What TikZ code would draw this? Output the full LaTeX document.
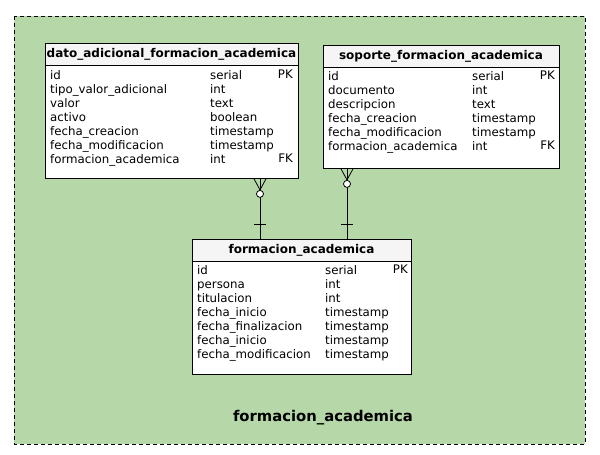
\documentclass[tikz,border=0pt]{standalone}
\usepackage{fontspec}
\setmainfont{DejaVu Sans}
\usepackage{xcolor}
\usepackage{tikz}
\usetikzlibrary{shapes,arrows,positioning}

\definecolor{modulo}{HTML}{B6D7A8}
\definecolor{cabecera}{HTML}{F5F5F5}

\tikzset{
    tabla/.style={draw, line width=0.9pt, fill=white, anchor=north west, inner sep=0pt},
    titulo/.style={font=\fontsize{12}{14}\selectfont\bfseries, inner sep=0pt},
    campos/.style={font=\fontsize{11.8}{14}\selectfont, align=left, anchor=north west, inner sep=0pt},
    claves/.style={font=\fontsize{11.8}{14}\selectfont, align=right, anchor=north east, inner sep=0pt},
    enlace/.style={line width=0.8pt}
}

\begin{document}
\begin{tikzpicture}[x=1pt, y=-1pt]
                \useasboundingbox (0,0) rectangle (600,455);

                % modulo
                \draw[
                    line width=0.8pt,
                    fill=modulo,
                    dash pattern=on 4pt off 3pt
                ] (14,16) rectangle (585,444);
                \node[font=\fontsize{14.8}{17}\selectfont\bfseries, anchor=base] (nombre) at (323,421) {formacion\_academica};

                % dato_adicional_formacion_academica
                \node[tabla, minimum width=253pt, minimum height=135pt] (dato) at (45,43) {};
                \draw[
                    line width=0.9pt,
                    fill=cabecera
                ] (dato.north west) rectangle ++(253,22) node[pos=.5, titulo] (datotitulo) {dato\_adicional\_formacion\_academica};
                \node[campos] (datonombres) at (50,70) {id\\tipo\_valor\_adicional\\valor\\activo\\fecha\_creacion\\fecha\_modificacion\\formacion\_academica};
                \node[campos] (datotipos) at (210,70) {serial\\int\\text\\boolean\\timestamp\\timestamp\\int};
                \node[claves] (datoclaves) at (293,70) {PK\\\\\\\\\\\\FK};

                % soporte_formacion_academica
                \node[tabla, minimum width=236pt, minimum height=123pt] (soporte) at (323,45) {};
                \draw[
                    line width=0.9pt,
                    fill=cabecera
                ] (soporte.north west) rectangle ++(236,22) node[pos=.5, titulo] (soportetitulo) {soporte\_formacion\_academica};
                \node[campos] (soportenombres) at (328,71) {id\\documento\\descripcion\\fecha\_creacion\\fecha\_modificacion\\formacion\_academica};
                \node[campos] (soportetipos) at (472,71) {serial\\int\\text\\timestamp\\timestamp\\int};
                \node[claves] (soporteclaves) at (555,71) {PK\\\\\\\\\\FK};

                % formacion_academica
                \node[tabla, minimum width=219pt, minimum height=135pt] (formacion) at (192,239) {};
                \draw[
                    line width=0.9pt,
                    fill=cabecera
                ] (formacion.north west) rectangle ++(219,22) node[pos=.5, titulo] (formaciontitulo) {formacion\_academica};
                \node[campos] (formacionnombres) at (197,265) {id\\persona\\titulacion\\fecha\_inicio\\fecha\_finalizacion\\fecha\_inicio\\fecha\_modificacion};
                \node[campos] (formaciontipos) at (325,265) {serial\\int\\int\\timestamp\\timestamp\\timestamp\\timestamp};
                \node[claves] (formacionclaves) at (408,265) {PK};

                % relaciones
                \coordinate (enlaceA) at (260,200);
                \coordinate (enlaceB) at (347,200);

                \draw[enlace] (enlaceA |- dato.south) -- (enlaceA |- formacion.north);
                \draw[enlace] (enlaceA |- dato.south) ++(-6,0) -- ++(6,11) -- ++(6,-11);
                \draw[enlace, fill=white] (enlaceA |- dato.south) ++(0,15) circle[radius=3.5];
                \draw[enlace] (enlaceA |- formacion.north) ++(-6,-15) -- ++(12,0);

                \draw[enlace] (enlaceB |- soporte.south) -- (enlaceB |- formacion.north);
                \draw[enlace] (enlaceB |- soporte.south) ++(-6,0) -- ++(6,11) -- ++(6,-11);
                \draw[enlace, fill=white] (enlaceB |- soporte.south) ++(0,15) circle[radius=3.5];
                \draw[enlace] (enlaceB |- formacion.north) ++(-6,-15) -- ++(12,0);

            \end{tikzpicture}
\end{document}
